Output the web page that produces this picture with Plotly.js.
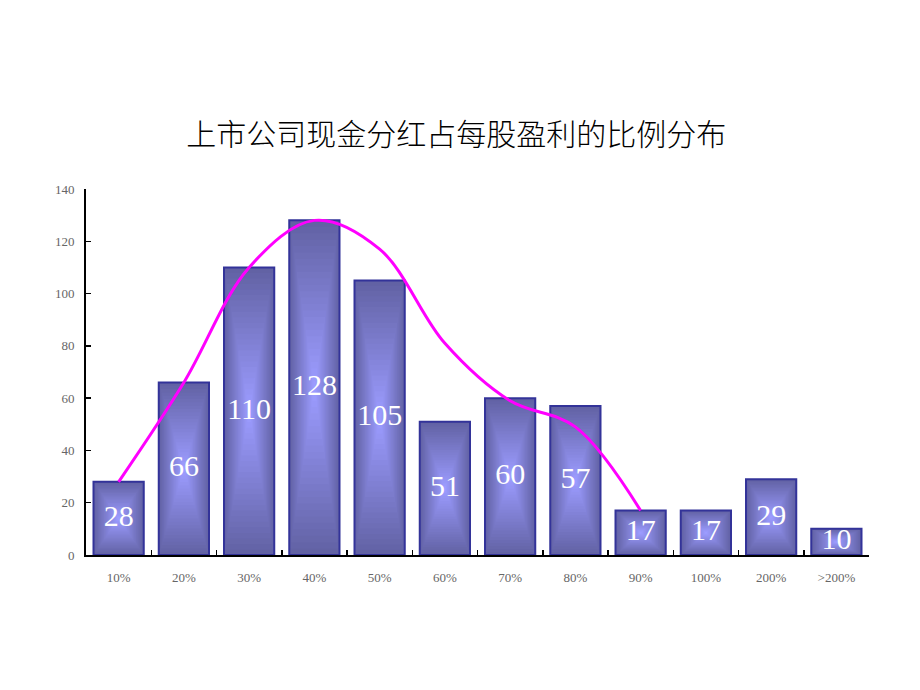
<!DOCTYPE html>
<html>
<head>
<meta charset="utf-8">
<script src="https://cdn.plot.ly/plotly-3.0.1.min.js"></script>
<style>html,body{margin:0;padding:0;background:#fff;}#chart{width:920px;height:690px;}</style>
</head>
<body>
<div id="chart"></div>
<script>
// ---- data ----
const categories = ['10%','20%','30%','40%','50%','60%','70%','80%','90%','100%','200%','>200%'];
const counts = [28, 66, 110, 128, 105, 51, 60, 57, 17, 17, 29, 10];
const trendCategories = ['10%','20%','30%','40%','50%','60%','70%','80%','90%'];
const trendValues = [28, 66, 110, 128, 117, 81, 59, 49, 17];
const titleText = '上市公司现金分红占每股盈利的比例分布';

// ---- styling ----
const barWidth = 0.77;
const edgeColor = [98, 98, 164];
const centerColor = [156, 156, 255];
const layers = 26;

const traces = [];
for (let k = 0; k < layers; k++) {
  const t = 1 - k / layers;
  const f = k / (layers - 1);
  const c = edgeColor.map((e, i) => Math.round(e + (centerColor[i] - e) * f));
  traces.push({
    type: 'bar',
    x: categories,
    y: counts.map(v => v * t),
    base: counts.map(v => v * (1 - t) / 2),
    width: categories.map(() => barWidth * t),
    marker: {color: 'rgb(' + c.join(',') + ')', line: {width: 0}},
    hoverinfo: 'skip',
    showlegend: false
  });
}
// outline on top
traces.push({
  type: 'bar',
  x: categories,
  y: counts,
  width: categories.map(() => barWidth),
  marker: {color: 'rgba(0,0,0,0)', line: {color: '#333399', width: 2}},
  hoverinfo: 'skip',
  showlegend: false
});
// trend line
traces.push({
  type: 'scatter',
  mode: 'lines',
  x: trendCategories,
  y: trendValues,
  line: {color: '#ff00ff', width: 3, shape: 'spline', smoothing: 1.0},
  hoverinfo: 'skip',
  showlegend: false
});
// value labels
traces.push({
  type: 'scatter',
  mode: 'text',
  x: categories,
  y: counts.map(v => v / 2),
  text: counts.map(String),
  textposition: 'middle center',
  textfont: {family: 'Liberation Serif, DejaVu Serif, serif', size: 30, color: '#ffffff'},
  hoverinfo: 'skip',
  showlegend: false
});

const tickFont = {family: 'Liberation Serif, serif', size: 13, color: '#666666'};

const layout = {
  width: 920,
  height: 690,
  paper_bgcolor: '#ffffff',
  plot_bgcolor: '#ffffff',
  barmode: 'overlay',
  margin: {l: 86, r: 51, t: 189, b: 135},
  title: {
    text: titleText,
    font: {family: 'Noto Sans CJK SC, sans-serif', size: 30, color: '#000000', weight: 300},
    x: 0.496,
    xanchor: 'center',
    y: 0.805,
    yanchor: 'middle'
  },
  xaxis: {
    type: 'category',
    range: [-0.5, 11.5],
    showline: true,
    linecolor: '#000000',
    linewidth: 2,
    ticks: 'inside',
    tickson: 'boundaries',
    ticklen: 5,
    tickwidth: 1.5,
    tickcolor: '#000000',
    ticklabelstandoff: 9,
    showgrid: false,
    zeroline: false,
    tickfont: tickFont,
    fixedrange: true
  },
  yaxis: {
    range: [0, 140],
    dtick: 20,
    showline: true,
    linecolor: '#000000',
    linewidth: 2,
    ticks: 'inside',
    ticklen: 5,
    tickwidth: 1.5,
    tickcolor: '#000000',
    ticklabelstandoff: 7,
    showgrid: false,
    zeroline: false,
    tickfont: tickFont,
    fixedrange: true
  }
};

Plotly.newPlot('chart', traces, layout, {displayModeBar: false, staticPlot: true});
</script>
</body>
</html>
